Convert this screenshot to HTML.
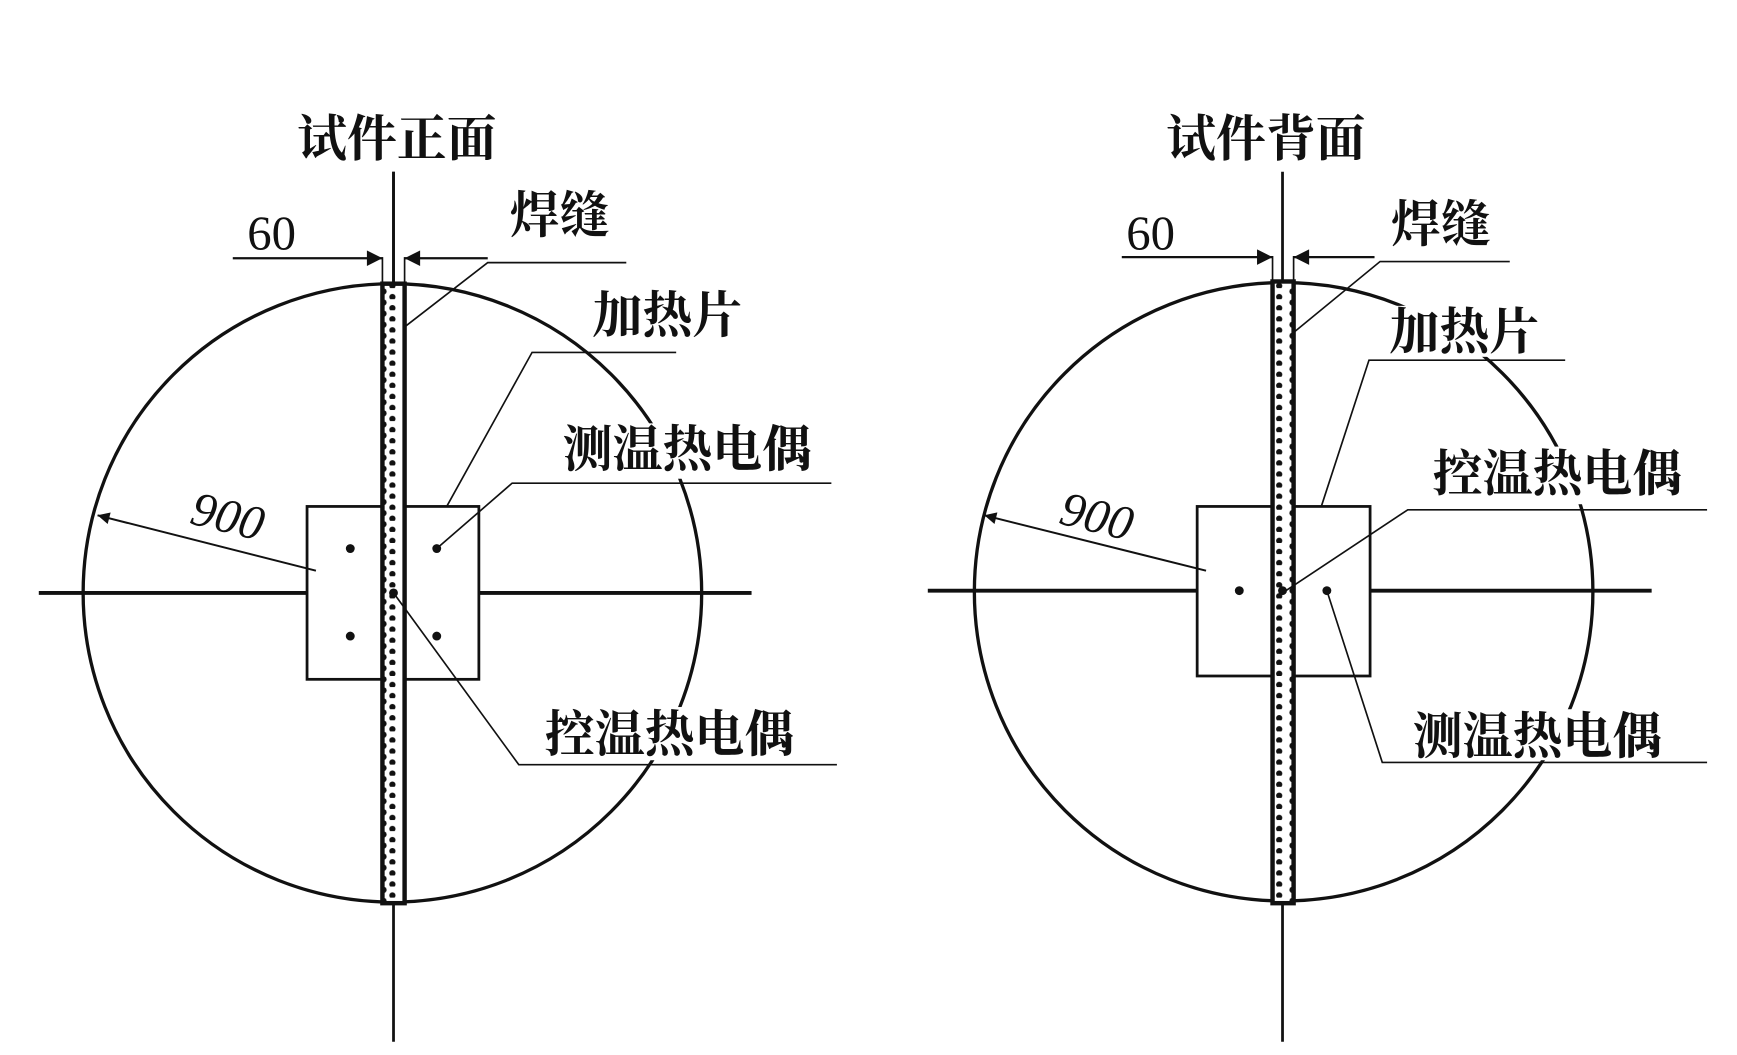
<!DOCTYPE html>
<html><head><meta charset="utf-8"><style>
html,body{margin:0;padding:0;background:#fff}
svg{display:block}
.t{font-family:"Liberation Serif","Noto Serif CJK SC",serif;font-weight:bold;font-size:45px;fill:#111}
.n{font-family:"Liberation Serif",serif;font-size:44px;fill:#111}
</style></head><body>
<svg width="1737" height="1055" viewBox="0 0 1567 952" preserveAspectRatio="none" xmlns="http://www.w3.org/2000/svg">
<defs>
<pattern id="dots" x="0" y="0" width="20" height="10" patternUnits="userSpaceOnUse">
<rect width="20" height="10" fill="#fff"/>
<circle cx="6" cy="3" r="2.8" fill="#111"/>
<circle cx="14" cy="8" r="2.8" fill="#111"/>
</pattern>
<marker id="ar" viewBox="0 0 10 10" refX="10" refY="5" markerWidth="20" markerHeight="7" orient="auto-start-reverse" markerUnits="strokeWidth"><path d="M0,0 L10,5 L0,10 z" fill="#111"/></marker>
<marker id="ar2" viewBox="0 0 10 10" refX="10" refY="5" markerWidth="14" markerHeight="6" orient="auto" markerUnits="strokeWidth"><path d="M0,0 L10,5 L0,10 z" fill="#111"/></marker>
</defs>
<g stroke="#111" fill="none">
<circle cx="354" cy="535" r="279" stroke-width="3"/>
<line x1="355" y1="155" x2="355" y2="940" stroke-width="2.5"/>
<line x1="35" y1="535" x2="678" y2="535" stroke-width="3.5"/>
<rect x="277" y="457" width="155" height="156" stroke-width="2.5" fill="#fff"/>
<rect x="345" y="256" width="20" height="559" fill="url(#dots)" stroke-width="4"/>
<line x1="345" y1="232" x2="345" y2="256" stroke-width="1.5"/>
<line x1="365" y1="232" x2="365" y2="256" stroke-width="1.5"/>
<line x1="355" y1="155" x2="355" y2="256" stroke-width="2.5"/>
<line x1="210" y1="233" x2="345" y2="233" stroke-width="2" marker-end="url(#ar)"/>
<line x1="440" y1="233" x2="365" y2="233" stroke-width="2" marker-end="url(#ar)"/>
<polyline points="565,237 440,237 365,295" stroke-width="1.5"/>
<polyline points="610,318 480,318 403,457" stroke-width="1.5"/>
<polyline points="750,436 462,436 394,495" stroke-width="1.5"/>
<polyline points="755,690 468,690 355,535" stroke-width="1.5"/>
<line x1="285" y1="515" x2="88" y2="465" stroke-width="1.8" marker-end="url(#ar2)"/>
<circle cx="1158" cy="534" r="279" stroke-width="3"/>
<line x1="1157" y1="155" x2="1157" y2="940" stroke-width="2.5"/>
<line x1="837" y1="533" x2="1490" y2="533" stroke-width="3.5"/>
<rect x="1080" y="457" width="156" height="153" stroke-width="2.5" fill="#fff"/>
<rect x="1148" y="254" width="19" height="561" fill="url(#dots)" stroke-width="4"/>
<line x1="1148" y1="231" x2="1148" y2="254" stroke-width="1.5"/>
<line x1="1167" y1="231" x2="1167" y2="254" stroke-width="1.5"/>
<line x1="1012" y1="232" x2="1148" y2="232" stroke-width="2" marker-end="url(#ar)"/>
<line x1="1240" y1="232" x2="1167" y2="232" stroke-width="2" marker-end="url(#ar)"/>
<polyline points="1362,236 1245,236 1167,300" stroke-width="1.5"/>
<polyline points="1412,325 1235,325 1192,457" stroke-width="1.5"/>
<polyline points="1540,460 1270,460 1160,533" stroke-width="1.5"/>
<polyline points="1540,688 1247,688 1197,533" stroke-width="1.5"/>
<line x1="1088" y1="515" x2="888" y2="465" stroke-width="1.8" marker-end="url(#ar2)"/>
</g>
<g fill="#111">
<circle cx="316" cy="495" r="4"/><circle cx="394" cy="495" r="4"/>
<circle cx="316" cy="574" r="4"/><circle cx="394" cy="574" r="4"/>
<circle cx="355" cy="535" r="4"/>
<circle cx="1118" cy="533" r="4"/><circle cx="1157" cy="533" r="4"/><circle cx="1197" cy="533" r="4"/>
</g>
<g fill="#fff">
<rect x="503" y="382" width="236" height="50"/>
<rect x="488" y="638" width="234" height="48"/>
<rect x="1250" y="276" width="144" height="46"/>
<rect x="1288" y="403" width="236" height="52"/>
<rect x="1270" y="640" width="236" height="46"/>
</g>
<text class="t" x="358" y="141" text-anchor="middle">试件正面</text>
<text class="t" x="1142" y="141" text-anchor="middle">试件背面</text>
<text class="n" x="245" y="225" text-anchor="middle">60</text>
<text class="n" x="1038" y="225" text-anchor="middle">60</text>
<text class="t" x="505" y="210" text-anchor="middle">焊缝</text>
<text class="t" x="1300" y="218" text-anchor="middle">焊缝</text>
<text class="t" x="602" y="300" text-anchor="middle">加热片</text>
<text class="t" x="1321" y="315" text-anchor="middle">加热片</text>
<text class="t" x="620" y="421" text-anchor="middle">测温热电偶</text>
<text class="t" x="604" y="678" text-anchor="middle">控温热电偶</text>
<text class="t" x="1405" y="443" text-anchor="middle">控温热电偶</text>
<text class="t" x="1387" y="680" text-anchor="middle">测温热电偶</text>
<text class="n" font-style="italic" transform="translate(202,480) rotate(14)" text-anchor="middle">900</text>
<text class="n" font-style="italic" transform="translate(986,480) rotate(14)" text-anchor="middle">900</text>
</svg>
</body></html>
